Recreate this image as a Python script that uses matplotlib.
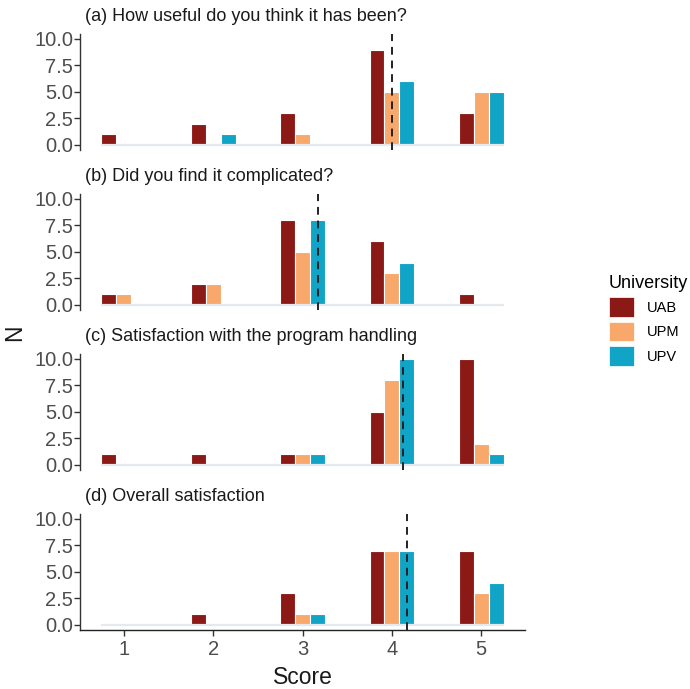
import numpy as np
import matplotlib
matplotlib.use("Agg")
import matplotlib.pyplot as plt
from matplotlib.patches import Patch

plt.rcParams['font.family'] = ['Liberation Sans', 'DejaVu Sans']

# datos de la figura
scores = [1, 2, 3, 4, 5]
universities = ['UAB', 'UPM', 'UPV']
colors = ['#8B1A17', '#F8A86B', '#10A4C6']

titles = ['(a) How useful do you think it has been?',
          '(b) Did you find it complicated?',
          '(c) Satisfaction with the program handling',
          '(d) Overall satisfaction']

useful_uab = [1, 2, 3, 9, 3]
useful_upm = [0, 0, 1, 5, 5]
useful_upv = [0, 1, 0, 6, 5]

complicated_uab = [1, 2, 8, 6, 1]
complicated_upm = [1, 2, 5, 3, 0]
complicated_upv = [0, 0, 8, 4, 0]

handling_uab = [1, 1, 1, 5, 10]
handling_upm = [0, 0, 1, 8, 2]
handling_upv = [0, 0, 1, 10, 1]

overall_uab = [0, 1, 3, 7, 7]
overall_upm = [0, 0, 1, 7, 3]
overall_upv = [0, 0, 1, 7, 4]

yticks = [0, 2.5, 5, 7.5, 10]


def mean_score(groups):
    # media ponderada de la puntuacion con todas las universidades
    counts = np.sum(groups, axis=0)
    return np.sum(counts * np.array(scores)) / np.sum(counts)


def bar_panel(ax, groups, title, bottom_axis):
    w = 1 / 6
    x = np.array(scores)
    # linea clara en y=0 (barras vacias)
    ax.plot([x.min() - 0.25, x.max() + 0.25], [0, 0], color='#E4E9EF',
            lw=1.6, zorder=2.5, solid_capstyle='butt')
    for i, g in enumerate(groups):
        ax.bar(x + (i - 1) * w, g, width=w, color=colors[i],
               edgecolor='white', linewidth=0.8, zorder=2)
    ax.axvline(mean_score(groups), color='#222222', lw=1.4,
               dashes=(4, 3), zorder=3, clip_on=False)
    ax.set_xlim(0.51, 5.49)
    ax.set_ylim(-0.5, 10.5)
    ax.set_yticks(yticks)
    ax.set_yticklabels(['%.1f' % v for v in yticks])
    for s in ['top', 'right']:
        ax.spines[s].set_visible(False)
    ax.spines['left'].set_color('#333333')
    ax.spines['left'].set_linewidth(1.0)
    ax.tick_params(axis='y', labelsize=14.5, labelcolor='#4D4D4D',
                   color='#333333', length=4, width=1.0, pad=1)
    if bottom_axis:
        ax.spines['bottom'].set_color('#222222')
        ax.spines['bottom'].set_linewidth(1.0)
        ax.set_xticks(scores)
        ax.tick_params(axis='x', labelsize=14.5, labelcolor='#4D4D4D',
                       color='#333333', length=4, width=1.0, pad=3)
    else:
        ax.spines['bottom'].set_visible(False)
        ax.set_xticks([])
    ax.text(0.011, 1.148, title, transform=ax.transAxes, fontsize=13,
            color='#1A1A1A', ha='left', va='center')


fig = plt.figure(figsize=(6.9, 6.89), dpi=100)

data = [[useful_uab, useful_upm, useful_upv],
        [complicated_uab, complicated_upm, complicated_upv],
        [handling_uab, handling_upm, handling_upv],
        [overall_uab, overall_upm, overall_upv]]

for k in range(4):
    ax = fig.add_axes([0.116, 0.7819 - k * 0.2322, 0.645, 0.1692])
    bar_panel(ax, data[k], titles[k], k == 3)

fig.text(15 / 690, 1 - 333 / 689, 'N', rotation=90, ha='center',
         va='center', fontsize=16.5, color='#1A1A1A')
fig.text(0.116 + 0.645 / 2, 1 - 677 / 689, 'Score', ha='center',
         va='center', fontsize=16.5, color='#1A1A1A')

handles = [Patch(facecolor=c, edgecolor='white', linewidth=0.5) for c in colors]
leg = fig.legend(handles, universities, title='University',
                 loc='upper left', bbox_to_anchor=(609 / 690, 1 - 275 / 689),
                 frameon=False, fontsize=10.5, title_fontsize=13,
                 handlelength=1.7, handleheight=1.7, handletextpad=0.9,
                 labelspacing=0.34, borderpad=0, borderaxespad=0,
                 alignment='left')

fig.savefig('out.png', dpi=100)
